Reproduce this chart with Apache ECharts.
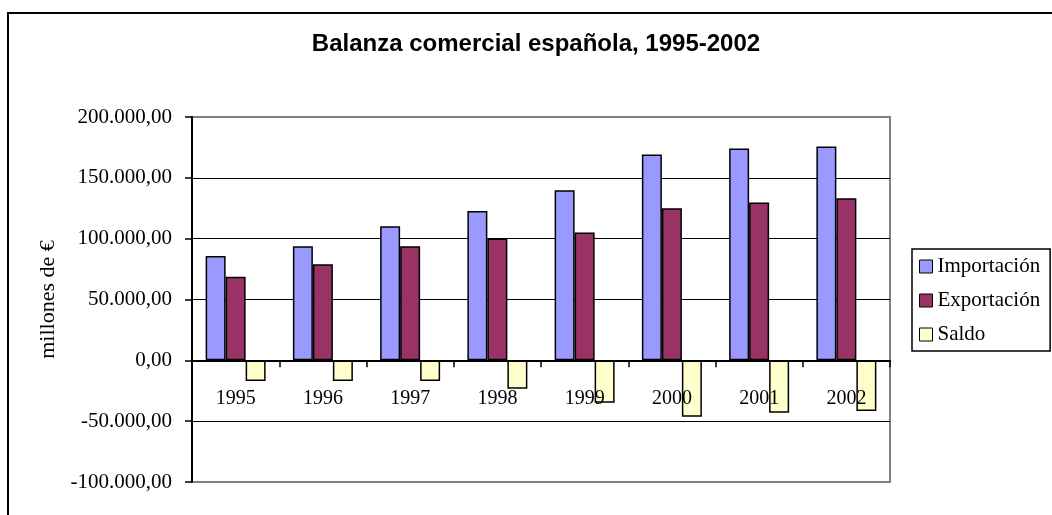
<!DOCTYPE html>
<html>
<head>
<meta charset="utf-8">
<title>Balanza comercial española</title>
<script src="https://cdn.jsdelivr.net/npm/echarts@6/dist/echarts.min.js"></script>
<style>
    html, body { margin: 0; padding: 0; background: #fff; }
    #balanza { width: 1052px; height: 515px; }
</style>
</head>
<body>
<div id="balanza"></div>
<script>
// datos (millones de €)
var years = ['1995', '1996', '1997', '1998', '1999', '2000', '2001', '2002'];
var importacion = [85800, 93800, 110200, 122800, 139800, 169200, 174100, 175700];
var exportacion = [68800, 78900, 93800, 100100, 105000, 125000, 129700, 133200];
var saldo = [-17000, -17000, -17000, -23300, -34800, -46300, -43000, -41700];
var seriesNames = ['Importación', 'Exportación', 'Saldo'];

var serif = '"Liberation Serif", "Times New Roman", serif';

// 200000 -> "200.000,00"
function formatEs(v) {
    var parts = Math.abs(v).toFixed(2).split('.');
    var ent = parts[0].replace(/\B(?=(\d{3})+(?!\d))/g, '.');
    return (v < 0 ? '-' : '') + ent + ',' + parts[1];
}

var myChart = echarts.init(document.getElementById('balanza'));

var option = {
    backgroundColor: '#fff',
    animation: false,
    title: {
        text: 'Balanza comercial española, 1995-2002',
        left: 536,
        top: 32,
        textAlign: 'center',
        padding: 0,
        textStyle: {
            fontFamily: '"Liberation Sans", Arial, sans-serif',
            fontWeight: 'bold',
            fontSize: 24,
            color: '#000'
        }
    },
    // marco exterior del gráfico
    graphic: [{
        type: 'rect',
        shape: { x: 8, y: 13, width: 1200, height: 700 },
        style: { fill: null, stroke: '#000', lineWidth: 2 },
        silent: true
    }],
    legend: {
        orient: 'vertical',
        left: 912,
        top: 249,
        padding: [7, 10, 6, 7],
        itemGap: 13,
        itemWidth: 13,
        itemHeight: 13,
        itemTextGap: 5,
        icon: 'rect',
        borderColor: '#000',
        borderWidth: 1.5,
        itemStyle: { borderColor: '#000', borderWidth: 1 },
        textStyle: { fontFamily: serif, fontSize: 21, color: '#000' },
        data: seriesNames
    },
    grid: {
        left: 192,
        top: 117,
        width: 698,
        height: 365,
        outerBoundsMode: 'none',
        show: true,
        borderColor: '#808080',
        borderWidth: 2,
        backgroundColor: 'transparent'
    },
    xAxis: {
        type: 'category',
        data: years,
        z: 10,
        axisLine: { onZero: true, lineStyle: { color: '#000', width: 2 } },
        axisTick: { show: true, length: 7, lineStyle: { color: '#000', width: 1.5 } },
        // las etiquetas quedan en el borde inferior: se suben bajo la línea del cero
        axisLabel: { margin: -93, fontFamily: serif, fontSize: 20, color: '#000' },
        splitLine: { show: false }
    },
    yAxis: {
        type: 'value',
        min: -100000,
        max: 200000,
        interval: 50000,
        name: 'millones de €',
        nameLocation: 'middle',
        nameGap: 132,
        nameTextStyle: { fontFamily: serif, fontSize: 22, color: '#000' },
        axisLine: { show: true, lineStyle: { color: '#000', width: 2 } },
        axisTick: { show: true, length: 7, lineStyle: { color: '#000', width: 1.5 } },
        axisLabel: { margin: 20, fontFamily: serif, fontSize: 21, color: '#000', formatter: formatEs },
        splitLine: {
            show: true,
            showMinLine: false,
            showMaxLine: false,
            lineStyle: { color: '#000', width: 1 }
        }
    },
    series: [
        {
            name: seriesNames[0],
            type: 'bar',
            barWidth: 20,
            barGap: '0%',
            itemStyle: { color: '#9999FF', borderColor: '#000', borderWidth: 1.5 },
            data: importacion
        },
        {
            name: seriesNames[1],
            type: 'bar',
            barWidth: 20,
            barGap: '0%',
            itemStyle: { color: '#993366', borderColor: '#000', borderWidth: 1.5 },
            data: exportacion
        },
        {
            name: seriesNames[2],
            type: 'bar',
            barWidth: 20,
            barGap: '0%',
            itemStyle: { color: '#FFFFCC', borderColor: '#000', borderWidth: 1.5 },
            data: saldo
        }
    ]
};

myChart.setOption(option);
</script>
</body>
</html>
